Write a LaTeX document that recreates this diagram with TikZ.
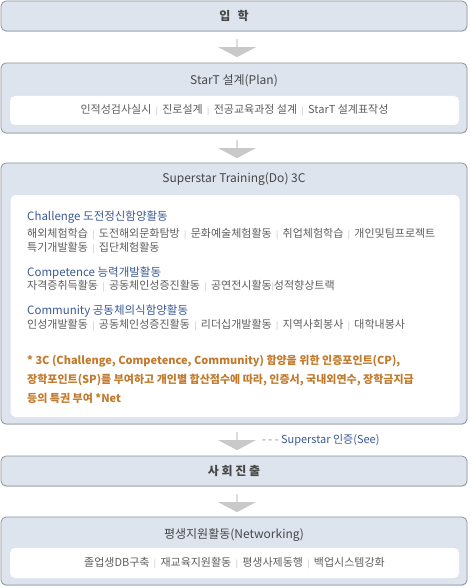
\documentclass[tikz,border=0pt]{standalone}
\usepackage{fontspec}
\setmainfont{Noto Sans CJK KR}
\usetikzlibrary{positioning,
                shapes.arrows,              % block arrows
                shadows}                    % box shadows

\definecolor{boxfill}{HTML}{DDE4EE}
\definecolor{boxline}{HTML}{8E939C}
\definecolor{arrowgray}{HTML}{C9C9C9}
\definecolor{headblue}{HTML}{3B5A96}
\definecolor{bodygray}{HTML}{5E5E5E}
\definecolor{noteorange}{HTML}{C27A2C}
\newcommand{\sepbar}{\hspace{0.4em}\textcolor{gray!55}{\fontsize{8}{8}\selectfont|}\hspace{0.4em}}

\tikzset{
  stagebox/.style={draw=boxline, fill=boxfill, rounded corners=5pt, line width=0.8pt,
                   minimum width=466pt, inner sep=0pt,
                   drop shadow={shadow xshift=0.4pt, shadow yshift=-0.8pt, fill=black!25}},
  listbox/.style={fill=white, rounded corners=5pt, inner sep=0pt, minimum width=449pt},
  stagetitle/.style={font=\fontsize{12}{14}\selectfont, text=black!72, inner sep=0pt},
  itemtext/.style={inner sep=0pt, font=\fontsize{11}{13}\selectfont, text=bodygray},
  headtext/.style={anchor=west, inner sep=0pt, font=\fontsize{11.5}{13}\selectfont, text=headblue},
  notetext/.style={anchor=west, inner sep=0pt, font=\fontsize{11}{13}\selectfont\bfseries, text=noteorange},
  downarrow/.style={single arrow, draw=none, fill=arrowgray, shape border rotate=270,
                    minimum height=18pt, minimum width=38pt, inner sep=0pt,
                    single arrow head extend=6.5pt, single arrow tip angle=124}
}

\begin{document}
\begin{tikzpicture}[x=1pt, y=-1pt]
  \useasboundingbox (0,0) rectangle (469,588);

  % 입학
  \node[stagebox, minimum height=30pt] (enter) at (234,16) {};
  \node[stagetitle, font=\fontsize{12}{14}\selectfont\bfseries] (entertitle) at (enter) {입\hspace{0.6em}학};

  \node[downarrow] (arrA) at (237,48) {};

  % Plan
  \node[stagebox, minimum height=70pt] (plan) at (234,98) {};
  \node[stagetitle] (plantitle) at (234,81) {StarT 설계(Plan)};
  \node[listbox, minimum height=29pt] (planlist) at (234.5,110.5) {};
  \node[itemtext] (planitems) at (planlist)
    {인적성검사실시\sepbar 진로설계\sepbar 전공교육과정 설계\sepbar StarT 설계표작성};

  \node[downarrow] (arrB) at (237,149) {};

  % Do
  \node[stagebox, minimum height=261pt] (do) at (234,293.5) {};
  \node[stagetitle] (dotitle) at (234,179) {Superstar Training(Do) 3C};
  \node[listbox, minimum height=222pt] (dolist) at (235,306) {};

  \node[headtext] (chal) at (27,217) {Challenge 도전정신함양활동};
  \node[itemtext, anchor=west] (chalA) at (27,234)
    {해외체험학습\sepbar 도전해외문화탐방\sepbar 문화예술체험활동\sepbar 취업체험학습\sepbar 개인및팀프로젝트};
  \node[itemtext, anchor=west] (chalB) at (27,248) {특기개발활동\sepbar 집단체험활동};

  \node[headtext] (comp) at (27,273) {Competence 능력개발활동};
  \node[itemtext, anchor=west] (compA) at (27,286)
    {자격증취득활동\sepbar 공동체인성증진활동\sepbar 공연전시활동{\textcolor{gray!55}{\fontsize{8}{8}\selectfont|}}성적향상트랙};

  \node[headtext] (comm) at (27,311) {Community 공동체의식함양활동};
  \node[itemtext, anchor=west] (commA) at (27,325)
    {인성개발활동\sepbar 공동체인성증진활동\sepbar 리더십개발활동\sepbar 지역사회봉사\sepbar 대학내봉사};

  \node[notetext] (noteA) at (27,361) {* 3C (Challenge, Competence, Community) 함양을 위한 인증포인트(CP),};
  \node[notetext] (noteB) at (27,380) {장학포인트(SP)를 부여하고 개인별 합산점수에 따라, 인증서, 국내외연수, 장학금지급};
  \node[notetext] (noteC) at (27,398) {등의 특권 부여 *Net};

  \node[downarrow] (arrC) at (237,441) {};
  \node[headtext, font=\fontsize{11}{13}\selectfont] (see) at (262,440) {\textcolor{gray}{- - -} Superstar 인증(See)};

  % 사회진출
  \node[stagebox, minimum height=30pt] (social) at (234,471) {};
  \node[stagetitle, font=\fontsize{12}{14}\selectfont\bfseries] (socialtitle) at (social) {사 회 진 출};

  \node[downarrow] (arrD) at (237,503) {};

  % Networking
  \node[stagebox, minimum height=68pt] (net) at (234,551) {};
  \node[stagetitle] (nettitle) at (234,535) {평생지원활동(Networking)};
  \node[listbox, minimum height=30pt] (netlist) at (234.5,563) {};
  \node[itemtext] (netitems) at (netlist)
    {졸업생DB구축\sepbar 재교육지원활동\sepbar 평생사제동행\sepbar 백업시스템강화};
\end{tikzpicture}
\end{document}
